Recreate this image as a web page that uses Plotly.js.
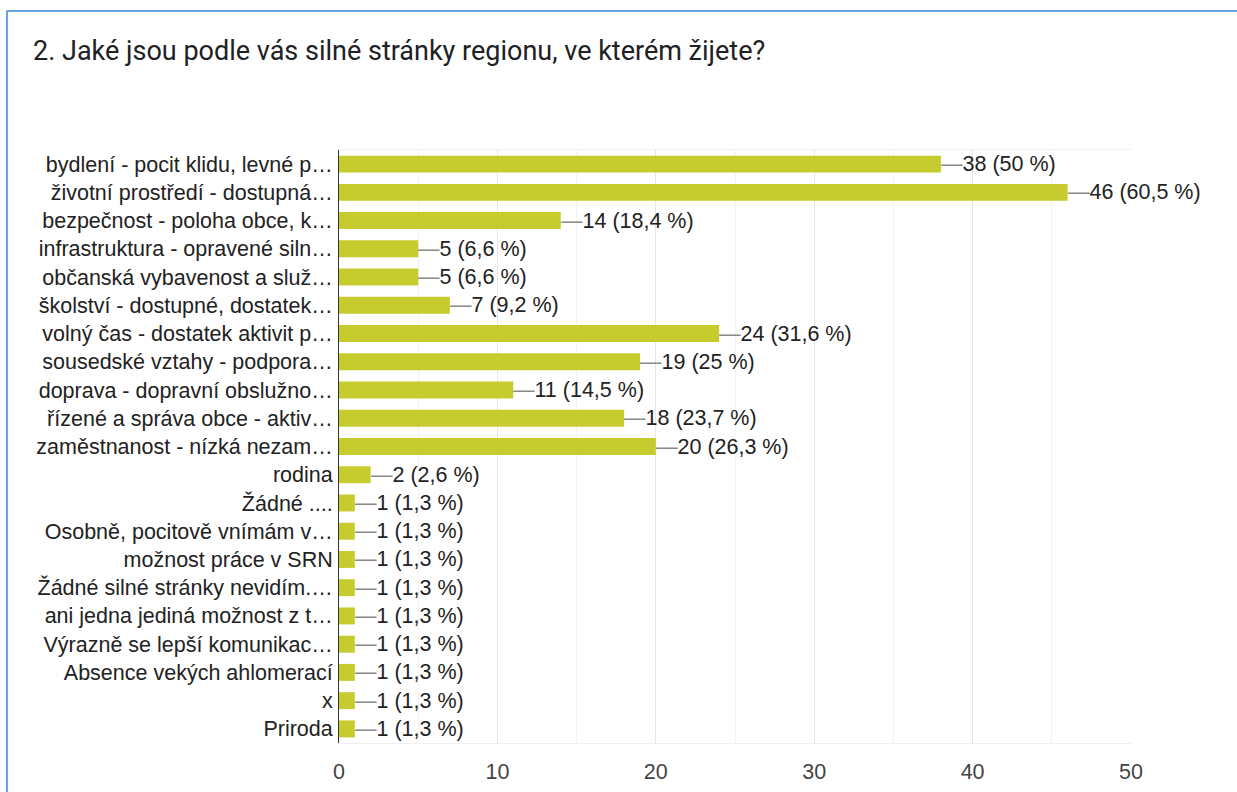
<!DOCTYPE html>
<html>
<head>
<meta charset="utf-8">
<script src="https://cdn.plot.ly/plotly-3.0.1.min.js"></script>
<style>
html,body{margin:0;padding:0;background:#fff;}
#wrap{position:relative;width:1237px;height:792px;overflow:hidden;}
#chart{position:absolute;left:0;top:0;width:1237px;height:792px;}
#frame{position:absolute;left:6px;top:10px;width:1240px;height:800px;border-top:2px solid #6aa3e0;border-left:2px solid #6aa3e0;border-top-left-radius:2px;pointer-events:none;}
</style>
</head>
<body>
<div id="wrap"><div id="chart"></div><div id="frame"></div></div>
<script>
const titleText = "2. Jaké jsou podle vás silné stránky regionu, ve kterém žijete?";
const categories = [
  "bydlení - pocit klidu, levné p…",
  "životní prostředí - dostupná…",
  "bezpečnost - poloha obce, k…",
  "infrastruktura - opravené siln…",
  "občanská vybavenost a služ…",
  "školství - dostupné, dostatek…",
  "volný čas - dostatek aktivit p…",
  "sousedské vztahy - podpora…",
  "doprava - dopravní obslužno…",
  "řízené a správa obce - aktiv…",
  "zaměstnanost - nízká nezam…",
  "rodina",
  "Žádné ....",
  "Osobně, pocitově vnímám v…",
  "možnost práce v SRN",
  "Žádné silné stránky nevidím.…",
  "ani jedna jediná možnost z t…",
  "Výrazně se lepší komunikac…",
  "Absence vekých ahlomerací",
  "x",
  "Priroda"
];
const counts = [38, 46, 14, 5, 5, 7, 24, 19, 11, 18, 20, 2, 1, 1, 1, 1, 1, 1, 1, 1, 1];
const percents = [50, 60.5, 18.4, 6.6, 6.6, 9.2, 31.6, 25, 14.5, 23.7, 26.3, 2.6, 1.3, 1.3, 1.3, 1.3, 1.3, 1.3, 1.3, 1.3, 1.3];
const xTicks = [0, 10, 20, 30, 40, 50];

const fontFam = "Liberation Sans, Arial, sans-serif";
const annotations = categories.map((c, i) => ({
  x: counts[i], y: c, xref: 'x', yref: 'y',
  xanchor: 'left', yanchor: 'middle', showarrow: false,
  text: '<span style="color:#8a8a8a">—</span>' + counts[i] + ' (' + String(percents[i]).replace('.', ',') + ' %)',
  font: {family: fontFam, size: 21.5, color: '#222222'},
  xshift: -2
}));

Plotly.newPlot('chart', [{
  type: 'bar', orientation: 'h',
  x: counts, y: categories,
  marker: {color: '#c6cc2e'},
  hoverinfo: 'none'
}], {
  width: 1237, height: 792,
  margin: {l: 339, r: 106, t: 150, b: 49},
  paper_bgcolor: '#ffffff', plot_bgcolor: '#ffffff',
  bargap: 0.4,
  showlegend: false,
  title: {
    text: titleText,
    xref: 'container', yref: 'container',
    x: 33/1237, xanchor: 'left',
    y: 1 - 51/792, yanchor: 'middle',
    font: {family: 'Roboto, Open Sans, sans-serif', size: 27, color: '#202124'}
  },
  xaxis: {
    range: [0, 50], tickvals: xTicks, ticktext: xTicks.map(String),
    showgrid: true, gridcolor: '#e6e6e6', gridwidth: 1,
    minor: {dtick: 5, tick0: 0, showgrid: true, gridcolor: '#f3f3f3'},
    zeroline: false,
    showline: true, linecolor: '#efefef', mirror: true,
    ticks: '', ticklabelstandoff: 9,
    tickfont: {family: fontFam, size: 21.5, color: '#444444'},
    fixedrange: true
  },
  yaxis: {
    type: 'category', autorange: 'reversed',
    showgrid: false, zeroline: false,
    showline: true, linecolor: '#333333', linewidth: 1,
    ticks: '', ticklabelstandoff: 1,
    tickfont: {family: fontFam, size: 21.5, color: '#222222'},
    fixedrange: true
  },
  annotations: annotations
}, {staticPlot: true, displayModeBar: false});
</script>
</body>
</html>
